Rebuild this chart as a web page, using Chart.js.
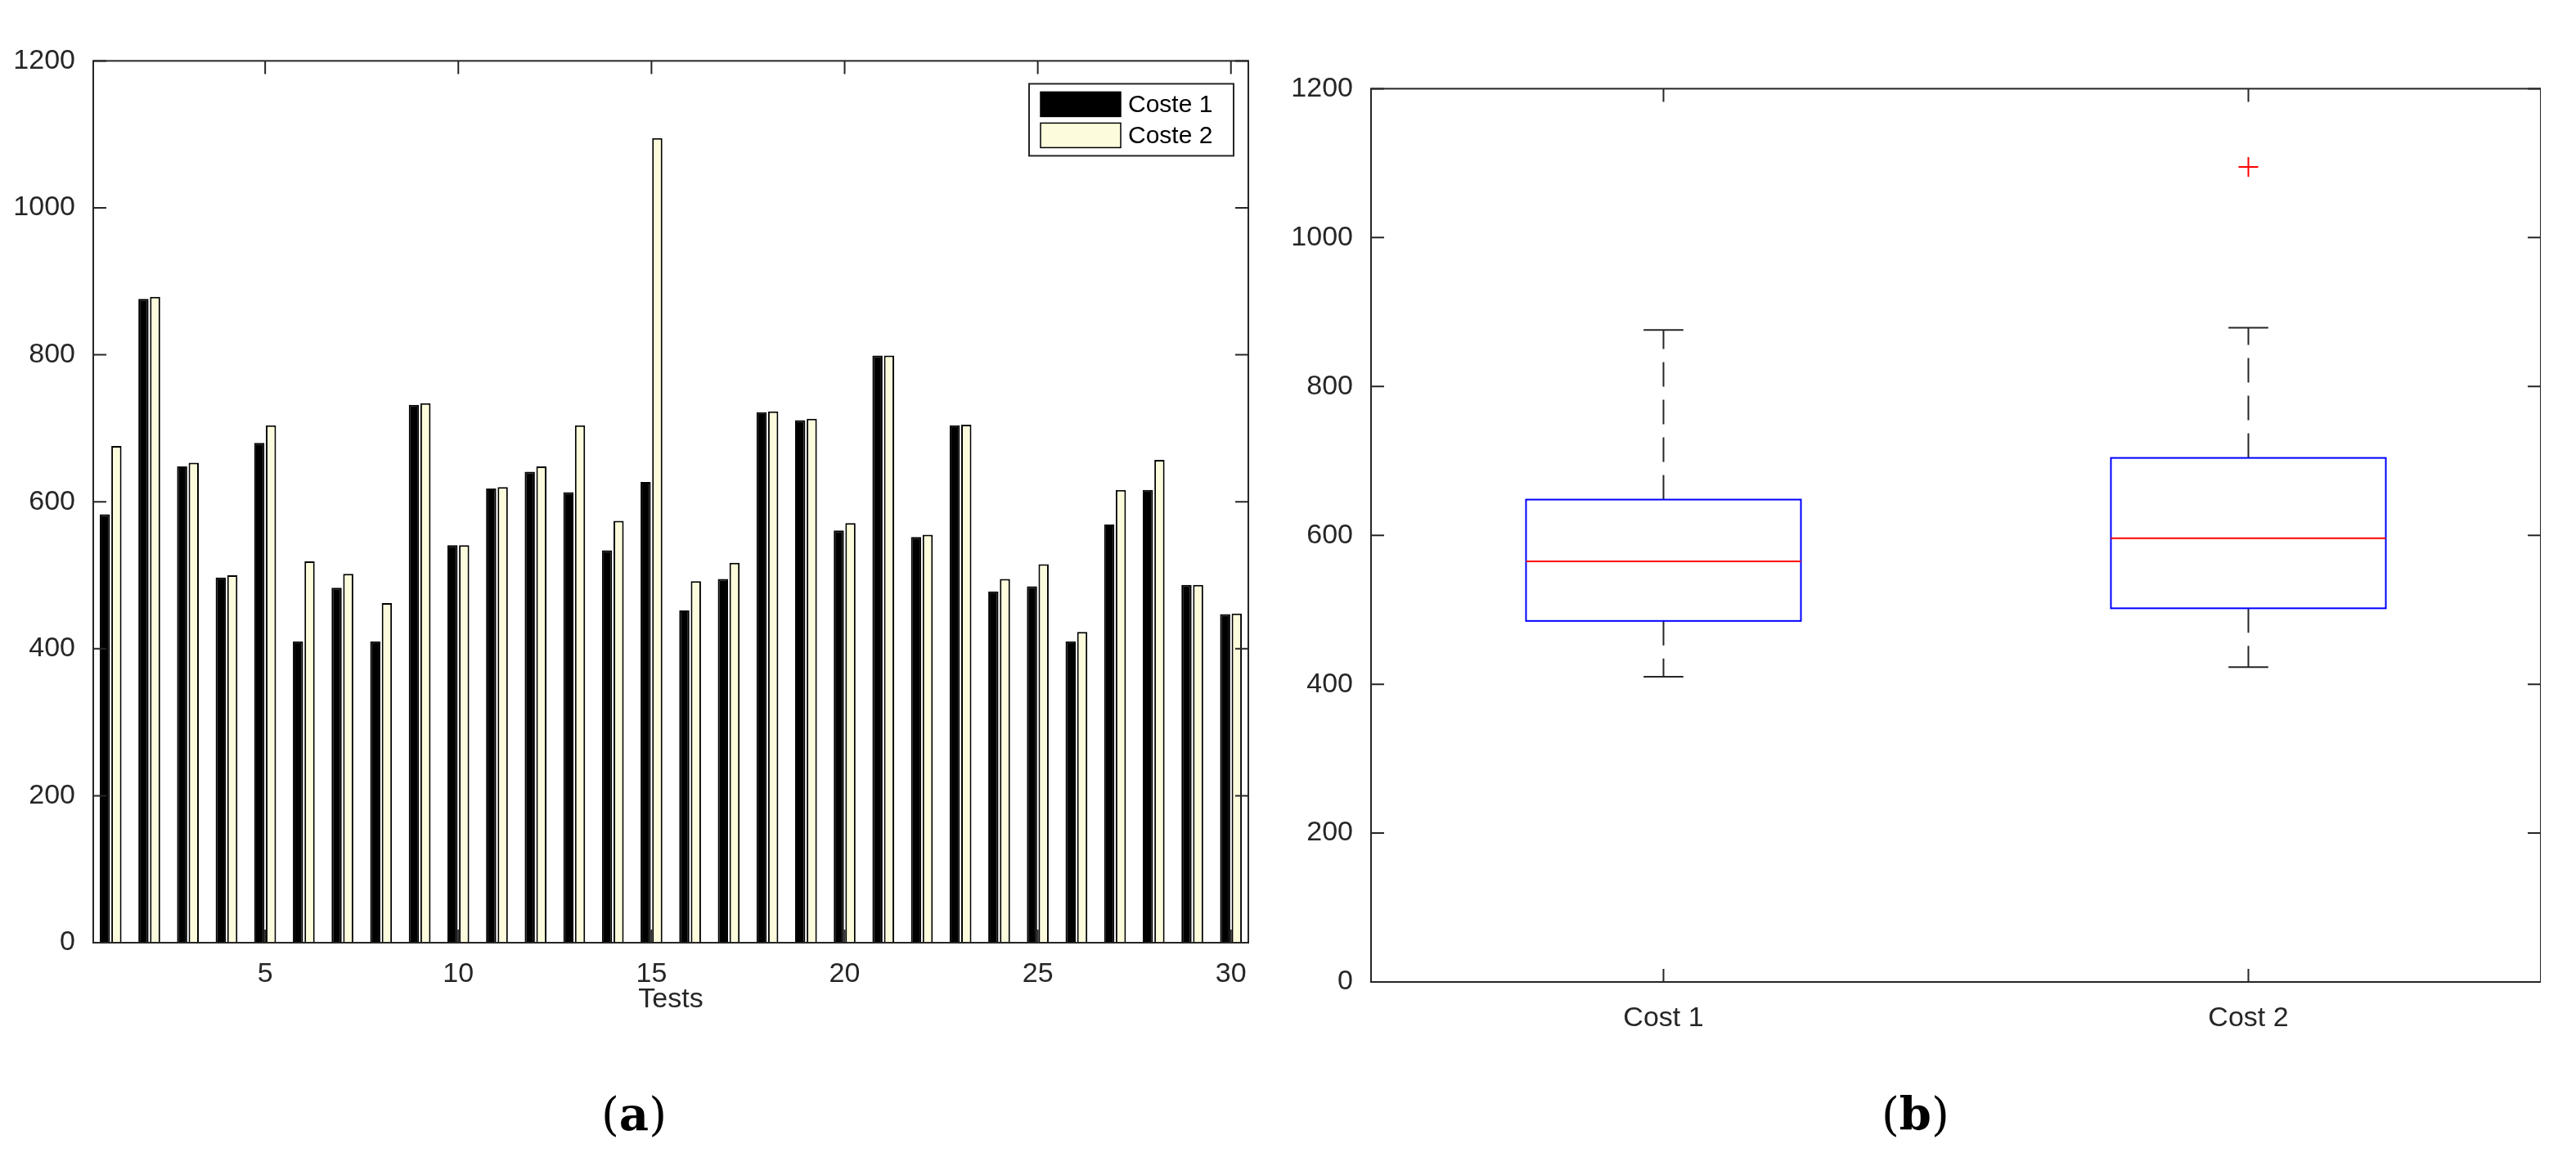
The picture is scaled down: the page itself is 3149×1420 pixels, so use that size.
<!DOCTYPE html>
<html>
<head>
<meta charset="utf-8">
<style>
body { margin: 0; background: white; width: 3149px; height: 1420px; position: relative; overflow: hidden; font-family: "Liberation Sans", Arial; }
.box { position: absolute; }
.cap { position: absolute; font-family: "DejaVu Serif", serif; font-size: 56px; }
</style>
<script src="https://cdn.jsdelivr.net/npm/chart.js"></script>
</head>
<body>
<div class="box" style="left:0px;top:40px;width:1536px;height:1202px"><canvas id="barChart"></canvas></div>
<div class="box" style="left:1566px;top:74px;width:1540px;height:1196px"><canvas id="boxChart"></canvas></div>
<div class="cap" style="left:735px;top:1328px">(<b>a</b>)</div>
<div class="cap" style="left:2300px;top:1328px">(<b>b</b>)</div>
<script>
// left chart data
var tests = [];
for (var i = 1; i <= 30; i++) tests.push(i);
var coste1 = [583,876,648,497,680,410,483,410,732,541,618,641,613,534,627,452,495,722,711,561,799,552,704,478,485,410,569,616,487,447];
var coste2 = [676,879,653,500,704,519,502,462,734,541,620,648,704,574,1095,492,517,723,713,571,799,555,705,495,515,423,616,657,487,448];

// right chart data (box plot summaries)
var costLabels = ["Cost 1", "Cost 2"];
var whiskerLow = [410, 423];
var q1 = [485, 502];
var median = [565, 596];
var q3 = [648, 704];
var whiskerHigh = [876, 879];
var outliers = [[], [1095]];

var yTicks = [0, 200, 400, 600, 800, 1000, 1200];
var tickFont = { family: "Liberation Sans", size: 34 };

// frame + inward ticks on all four sides
var framePlugin = {
  id: "frame",
  afterDraw: function(chart) {
    var c = chart.ctx, a = chart.chartArea;
    c.save();
    c.strokeStyle = "#262626";
    c.lineWidth = 2;
    c.strokeRect(a.left, a.top, a.right - a.left, a.bottom - a.top);
    var ys = chart.scales.y, xs = chart.scales.x;
    ys.ticks.forEach(function(t) {
      var py = ys.getPixelForValue(t.value);
      c.beginPath();
      c.moveTo(a.left, py); c.lineTo(a.left + 16, py);
      c.moveTo(a.right, py); c.lineTo(a.right - 16, py);
      c.stroke();
    });
    xs.ticks.forEach(function(t, i) {
      var px = xs.getPixelForTick(i);
      c.beginPath();
      c.moveTo(px, a.bottom); c.lineTo(px, a.bottom - 16);
      c.moveTo(px, a.top); c.lineTo(px, a.top + 16);
      c.stroke();
    });
    c.restore();
  }
};

var legendPlugin = {
  id: "boxLegend",
  afterDraw: function(chart) {
    var c = chart.ctx, a = chart.chartArea;
    var w = 250, h = 88, x = a.right - w - 18, y = a.top + 28;
    c.save();
    c.fillStyle = "white";
    c.fillRect(x, y, w, h);
    c.strokeStyle = "#262626";
    c.lineWidth = 2;
    c.strokeRect(x, y, w, h);
    chart.data.datasets.forEach(function(ds, i) {
      var ry = y + 10 + i * 38;
      c.fillStyle = ds.backgroundColor;
      c.fillRect(x + 14, ry, 98, 30);
      c.strokeStyle = "#000";
      c.lineWidth = 1.5;
      c.strokeRect(x + 14, ry, 98, 30);
      c.fillStyle = "#000";
      c.font = "30px 'Liberation Sans'";
      c.textBaseline = "middle";
      c.fillText(ds.label, x + 121, ry + 16);
    });
    c.restore();
  }
};

function fixTicks(s) { s.ticks = yTicks.map(function(v) { return { value: v }; }); }
function plainLabel(v) { return String(v); }

new Chart(document.getElementById("barChart"), {
  type: "bar",
  data: {
    datasets: [
      { label: "Coste 1", data: tests.map(function(t, i) { return { x: t, y: coste1[i] }; }),
        backgroundColor: "#000000", borderColor: "#000000", borderWidth: 2 },
      { label: "Coste 2", data: tests.map(function(t, i) { return { x: t, y: coste2[i] }; }),
        backgroundColor: "#fcfcdc", borderColor: "#000000", borderWidth: 2 }
    ]
  },
  options: {
    animation: false, responsive: true, maintainAspectRatio: false,
    categoryPercentage: 0.6, barPercentage: 0.88,
    layout: { padding: { right: 10, top: 0, left: 0, bottom: 0 } },
    plugins: { legend: { display: false }, tooltip: { enabled: false } },
    scales: {
      x: { type: "linear", min: 0.55, max: 30.45, offset: false,
        grid: { display: false }, border: { display: false },
        afterBuildTicks: function(s) { s.ticks = [5,10,15,20,25,30].map(function(v) { return { value: v }; }); },
        afterFit: function(s) { s.height = 90; },
        ticks: { font: tickFont, color: "#262626", padding: 10, callback: plainLabel },
        title: { display: true, text: "Tests", font: { family: "Liberation Sans", size: 34 }, color: "#262626", padding: 0 } },
      y: { min: 0, max: 1200, afterBuildTicks: fixTicks,
        afterFit: function(s) { s.width = 114; },
        grid: { display: false }, border: { display: false },
        ticks: { font: tickFont, color: "#262626", padding: 14, callback: plainLabel } }
    }
  },
  plugins: [framePlugin, legendPlugin]
});

// box plot drawn through the chart scales
var boxPlugin = {
  id: "boxplot",
  afterDatasetsDraw: function(chart) {
    var c = chart.ctx, xs = chart.scales.x, ys = chart.scales.y;
    var cat = xs.getPixelForValue(1) - xs.getPixelForValue(0);
    var half = cat * 0.235, capHalf = cat * 0.034;
    c.save();
    c.lineWidth = 2;
    costLabels.forEach(function(l, i) {
      var cx = xs.getPixelForValue(i);
      var yLo = ys.getPixelForValue(whiskerLow[i]), yQ1 = ys.getPixelForValue(q1[i]);
      var yQ3 = ys.getPixelForValue(q3[i]), yHi = ys.getPixelForValue(whiskerHigh[i]);
      var yMed = ys.getPixelForValue(median[i]);
      c.strokeStyle = "#262626";
      c.setLineDash([30, 16]);
      c.beginPath();
      c.moveTo(cx, yQ1); c.lineTo(cx, yLo);
      c.moveTo(cx, yQ3); c.lineTo(cx, yHi);
      c.stroke();
      c.setLineDash([]);
      c.beginPath();
      c.moveTo(cx - capHalf, yLo); c.lineTo(cx + capHalf, yLo);
      c.moveTo(cx - capHalf, yHi); c.lineTo(cx + capHalf, yHi);
      c.stroke();
      c.strokeStyle = "#0000ff";
      c.strokeRect(cx - half, yQ3, 2 * half, yQ1 - yQ3);
      c.strokeStyle = "#ff0000";
      c.beginPath();
      c.moveTo(cx - half, yMed); c.lineTo(cx + half, yMed);
      c.stroke();
      outliers[i].forEach(function(v) {
        var py = ys.getPixelForValue(v);
        c.beginPath();
        c.moveTo(cx - 12, py); c.lineTo(cx + 12, py);
        c.moveTo(cx, py - 12); c.lineTo(cx, py + 12);
        c.stroke();
      });
    });
    c.restore();
  }
};

new Chart(document.getElementById("boxChart"), {
  type: "bar",
  data: { labels: costLabels, datasets: [{ data: [], backgroundColor: "transparent" }] },
  options: {
    animation: false, responsive: true, maintainAspectRatio: false,
    layout: { padding: 0 },
    plugins: { legend: { display: false }, tooltip: { enabled: false } },
    scales: {
      x: { grid: { display: false }, border: { display: false },
        afterFit: function(s) { s.height = 70; },
        ticks: { font: tickFont, color: "#262626", padding: 16 } },
      y: { min: 0, max: 1200, afterBuildTicks: fixTicks,
        afterFit: function(s) { s.width = 110; },
        grid: { display: false }, border: { display: false },
        ticks: { font: tickFont, color: "#262626", padding: 14, callback: plainLabel } }
    }
  },
  plugins: [framePlugin, boxPlugin]
});
</script>
</body>
</html>
